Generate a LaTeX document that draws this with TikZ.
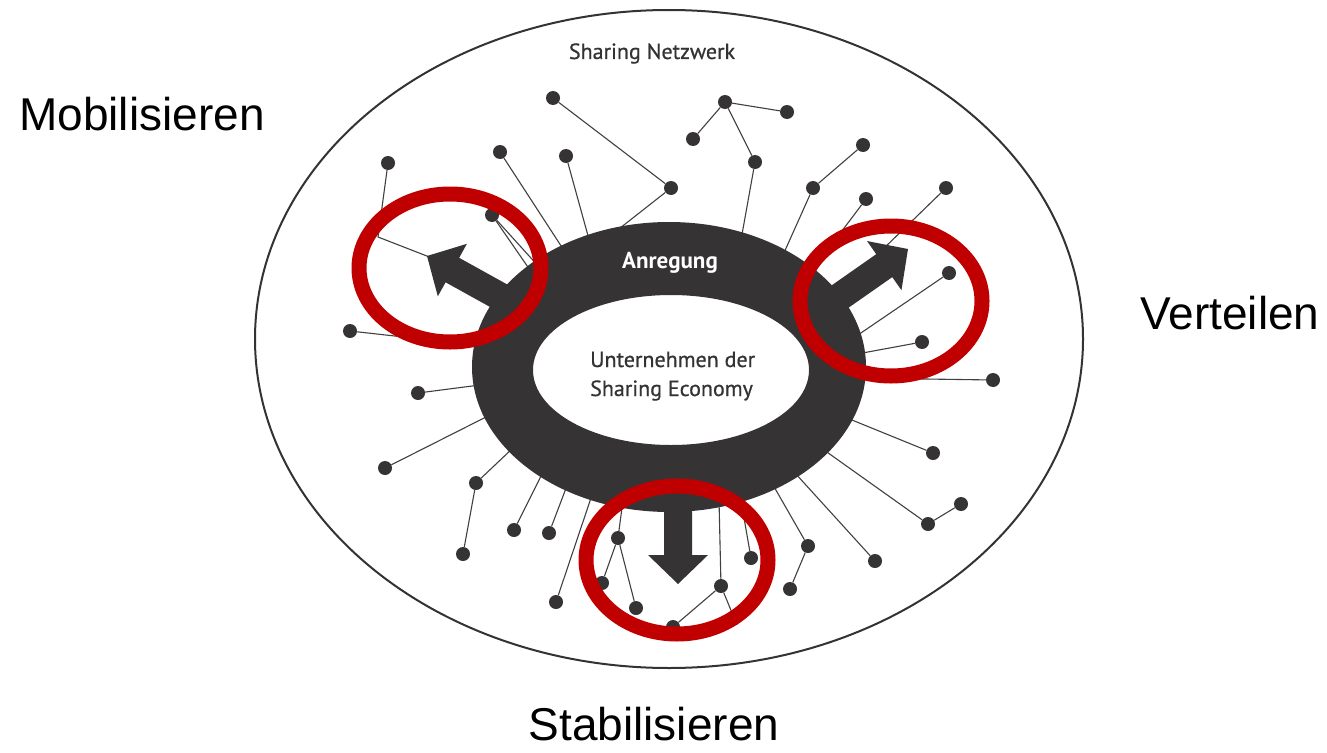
\documentclass[tikz,border=0pt]{standalone}
\usepackage{fontspec}
\setmainfont{Liberation Sans}
\newfontfamily\innerfont[FakeBold=0.7]{PT Sans}
\newfontfamily\innerbold{PT Sans}
\definecolor{ringc}{HTML}{353334}
\definecolor{linec}{HTML}{404040}
\definecolor{redc}{HTML}{C00000}
\definecolor{txtc}{HTML}{333333}
\newcommand{\fatarrow}[4]{%
  \fill[ringc, shift={(#1,#2)}, rotate=#3] (0,0) -- (-29,30) -- (-29,14) -- (-#4,14) -- (-#4,-14) -- (-29,-14) -- (-29,-30) -- cycle;}
\tikzset{
  dot/.style={circle, fill=ringc, inner sep=0pt, minimum size=14pt},
  conn/.style={draw=linec, line width=1.1pt},
  redring/.style={draw=redc, line width=15pt},
  biglabel/.style={font=\fontsize{46}{52}\selectfont, text=black, anchor=base, inner sep=0pt},
}
\begin{document}
\begin{tikzpicture}[x=1pt, y=-1pt]
\useasboundingbox (0,0) rectangle (1327,752);
% outer network ellipse
\draw[line width=2pt, color=black!80] (669,339) ellipse[x radius=414pt, y radius=329pt];
% dots
\foreach \n/\x/\y in {1/553/98, 2/725/102, 3/787/112, 4/693/139, 5/755/162, 6/863/145,
  7/500/152, 8/566/156, 9/388/163, 10/671/188, 11/813/188, 12/866/199, 13/946/188,
  14/492/215, 15/949/273, 16/922/342, 17/993/380, 18/933/453, 19/961/504, 20/928/524,
  21/875/561, 22/808/546, 23/790/589, 24/751/558, 25/721/586, 26/673/627, 27/636/608,
  28/618/538, 29/602/583, 30/556/602, 31/549/533, 32/514/530, 33/463/554, 34/476/483,
  35/350/331, 36/418/393, 37/385/468}
  \node[dot] (d\n) at (\x,\y) {};
% ring anchor coordinates (inside the dark ring)
\coordinate (r10) at (615,232);
\coordinate (r5) at (741,240);
\coordinate (r11) at (783,255);
\coordinate (r12) at (808,276);
\coordinate (r13) at (880,252);
\coordinate (r15) at (855,337);
\coordinate (r16) at (857,354);
\coordinate (r17) at (858,378);
\coordinate (r18) at (847,418);
\coordinate (r20) at (824,450);
\coordinate (r21) at (795,473);
\coordinate (r22) at (773,485);
\coordinate (r24) at (740,495);
\coordinate (r25) at (719,500);
\coordinate (h25) at (737,625);
\coordinate (r28) at (623,500);
\coordinate (r30) at (593,492);
\coordinate (r31) at (568,483);
\coordinate (r32) at (544,470);
\coordinate (r34) at (514,447);
\coordinate (r37) at (492,414);
\coordinate (r36) at (480,385);
\coordinate (r35) at (484,346);
\coordinate (h9) at (378,237);
\coordinate (t9) at (432,258);
\coordinate (r7) at (565,252);
\coordinate (r8) at (590,243);
\coordinate (r14a) at (540,268);
\coordinate (r14b) at (532,273);
% connectors
\draw[conn] (d1) -- (d10);
\draw[conn] (d10) -- (r10);
\draw[conn] (d2) -- (d3);
\draw[conn] (d2) -- (d4);
\draw[conn] (d2) -- (d5);
\draw[conn] (d5) -- (r5);
\draw[conn] (d6) -- (d11);
\draw[conn] (d11) -- (r11);
\draw[conn] (d12) -- (r12);
\draw[conn] (d13) -- (r13);
\draw[conn] (d15) -- (r15);
\draw[conn] (d16) -- (r16);
\draw[conn] (d17) -- (r17);
\draw[conn] (d18) -- (r18);
\draw[conn] (d19) -- (d20);
\draw[conn] (d20) -- (r20);
\draw[conn] (d21) -- (r21);
\draw[conn] (d22) -- (r22);
\draw[conn] (d23) -- (d22);
\draw[conn] (d24) -- (r24);
\draw[conn] (d25) -- (r25);
\draw[conn] (d25) -- (d26);
\draw[conn] (d25) -- (h25);
\draw[conn] (d28) -- (r28);
\draw[conn] (d28) -- (d29);
\draw[conn] (d28) -- (d27);
\draw[conn] (d30) -- (r30);
\draw[conn] (d31) -- (r31);
\draw[conn] (d32) -- (r32);
\draw[conn] (d34) -- (r34);
\draw[conn] (d34) -- (d33);
\draw[conn] (d37) -- (r37);
\draw[conn] (d36) -- (r36);
\draw[conn] (d35) -- (r35);
\draw[conn] (d9) -- (h9) -- (t9);
\draw[conn] (d7) -- (r7);
\draw[conn] (d8) -- (r8);
\draw[conn] (d14) -- (r14a);
\draw[conn] (d14) -- (r14b);
% dark ring
\fill[ringc, even odd rule] (669,367) ellipse[x radius=197pt, y radius=145pt]
  (671,370) ellipse[x radius=138pt, y radius=75pt];
% arrows
\fatarrow{427}{256}{151}{115}
\fatarrow{908}{249}{35}{100}
\fatarrow{678}{584}{-90}{104}
% texts
\node[font=\innerfont\fontsize{22}{26}\selectfont, text=txtc, anchor=base, inner sep=0pt] (net) at (652,59) {Sharing Netzwerk};
\node[font=\innerbold\bfseries\fontsize{23}{27}\selectfont, text=white, anchor=base, inner sep=0pt] (anr) at (670,268) {Anregung};
\node[font=\innerfont\fontsize{22}{26}\selectfont, text=txtc, anchor=base west, inner sep=0pt] (unt1) at (590,367) {Unternehmen der};
\node[font=\innerfont\fontsize{22}{26}\selectfont, text=txtc, anchor=base west, inner sep=0pt] (unt2) at (590,396) {Sharing Economy};
% red highlight ellipses
\draw[redring] (450,268) ellipse[x radius=91pt, y radius=74pt];
\draw[redring] (891,301) ellipse[x radius=91pt, y radius=75pt];
\draw[redring] (677,560) ellipse[x radius=91pt, y radius=74pt];
% outer labels
\node[biglabel] (mob) at (142,130) {Mobilisieren};
\node[biglabel] (ver) at (1230,329) {Verteilen};
\node[biglabel] (sta) at (654,740) {Stabilisieren};
\end{tikzpicture}
\end{document}
